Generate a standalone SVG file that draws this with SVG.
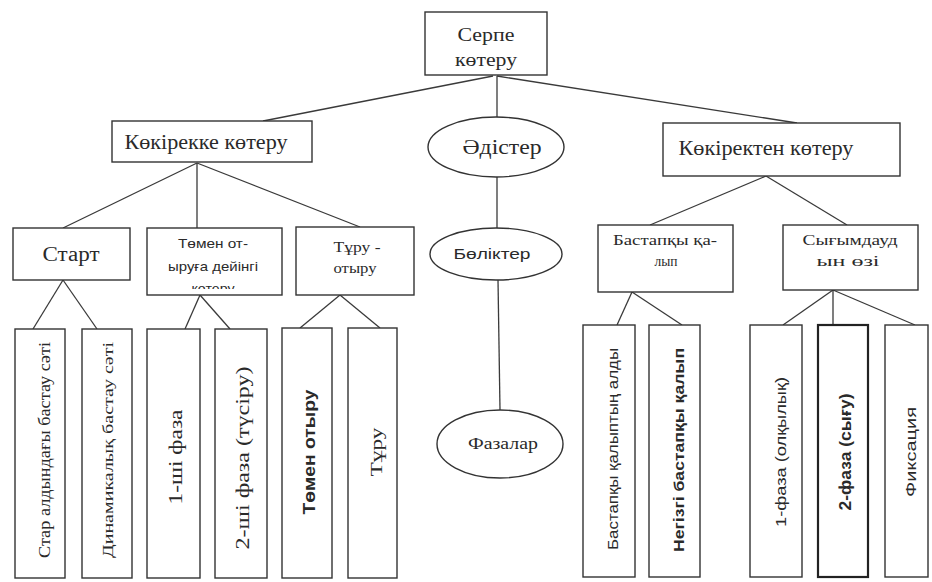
<svg xmlns="http://www.w3.org/2000/svg" width="932" height="582" viewBox="0 0 932 582">
<style>
.b{fill:#fff;stroke:#333;stroke-width:1.4}
.bb{fill:#fff;stroke:#222;stroke-width:2.2}
.c line{stroke:#3a3a3a;stroke-width:1.3}
text{fill:#2a2a2a;text-anchor:middle}
.s{font-family:"Liberation Serif","DejaVu Serif",serif}
.a{font-family:"Liberation Sans","DejaVu Sans",sans-serif}
.v{dominant-baseline:central}
</style>
<defs>
<clipPath id="clipT"><rect x="147" y="228" width="135" height="61"/></clipPath>
</defs>
<rect width="932" height="582" fill="#fff"/>
<g class="c" id="connectors">
<line x1="493" y1="76" x2="263" y2="121"/>
<line x1="497" y1="76" x2="797" y2="123"/>
<line x1="497" y1="76" x2="497" y2="117"/>
<line x1="497" y1="177" x2="497" y2="228"/>
<line x1="498" y1="280" x2="500" y2="410"/>
<line x1="197" y1="163" x2="63" y2="228"/>
<line x1="197" y1="163" x2="197" y2="228"/>
<line x1="197" y1="163" x2="360" y2="227"/>
<line x1="766" y1="176" x2="650" y2="225"/>
<line x1="766" y1="176" x2="847" y2="225"/>
<line x1="63" y1="280" x2="33" y2="329"/>
<line x1="63" y1="280" x2="97" y2="329"/>
<line x1="200" y1="295" x2="185" y2="329"/>
<line x1="200" y1="295" x2="230" y2="329"/>
<line x1="340" y1="295" x2="300" y2="328"/>
<line x1="340" y1="295" x2="380" y2="328"/>
<line x1="632" y1="292" x2="617" y2="325"/>
<line x1="632" y1="292" x2="682" y2="325"/>
<line x1="833" y1="290" x2="783" y2="325"/>
<line x1="833" y1="290" x2="833" y2="325"/>
<line x1="833" y1="290" x2="915" y2="325"/>
</g>
<g id="serpe">
<rect class="b" x="425" y="12" width="122" height="63"/>
<text class="s" x="486" y="41" font-size="19" textLength="57" lengthAdjust="spacingAndGlyphs">Серпе</text>
<text class="s" x="486" y="66" font-size="19" textLength="62" lengthAdjust="spacingAndGlyphs">көтеру</text>
</g>
<g id="kokirekke">
<rect class="b" x="112" y="121" width="200" height="41"/>
<text class="s" x="206" y="149" font-size="20" textLength="163" lengthAdjust="spacingAndGlyphs">Көкірекке көтеру</text>
</g>
<g id="adister">
<ellipse class="b" cx="496" cy="147" rx="68" ry="30"/>
<text class="s" x="502" y="154" font-size="20" textLength="79" lengthAdjust="spacingAndGlyphs">Әдістер</text>
</g>
<g id="bolikter">
<ellipse class="b" cx="496" cy="254" rx="66" ry="26"/>
<text class="a" x="492" y="259" font-size="15" textLength="77" lengthAdjust="spacingAndGlyphs">Бөліктер</text>
</g>
<g id="fazalar">
<ellipse class="b" cx="500" cy="444" rx="63" ry="34"/>
<text class="s" x="503" y="449" font-size="16" textLength="70" lengthAdjust="spacingAndGlyphs">Фазалар</text>
</g>
<g id="kokirekten">
<rect class="b" x="663" y="123" width="237" height="53"/>
<text class="s" x="766" y="155" font-size="20" textLength="175" lengthAdjust="spacingAndGlyphs">Көкіректен көтеру</text>
</g>
<g id="start">
<rect class="b" x="13" y="228" width="117" height="52"/>
<text class="s" x="71" y="261" font-size="20" textLength="57" lengthAdjust="spacingAndGlyphs">Старт</text>
</g>
<g id="tomen-otyruga">
<rect class="b" x="147" y="228" width="135" height="67"/>
<text class="a" x="213" y="248" font-size="13" textLength="70" lengthAdjust="spacingAndGlyphs">Төмен от-</text>
<text class="a" x="213" y="271" font-size="13" textLength="90" lengthAdjust="spacingAndGlyphs">ыруға дейінгі</text>
<text class="a" x="213" y="293" font-size="12" textLength="43" lengthAdjust="spacingAndGlyphs" clip-path="url(#clipT)">көтеру</text>
</g>
<g id="turu-otyru">
<rect class="b" x="296" y="227" width="118" height="68"/>
<text class="s" x="357" y="252" font-size="15" textLength="47" lengthAdjust="spacingAndGlyphs">Тұру -</text>
<text class="s" x="355" y="273" font-size="15" textLength="43" lengthAdjust="spacingAndGlyphs">отыру</text>
</g>
<g id="bastapky-kalyp">
<rect class="b" x="598" y="225" width="135" height="67"/>
<text class="s" x="665" y="245" font-size="15" textLength="104" lengthAdjust="spacingAndGlyphs">Бастапқы қа-</text>
<text class="s" x="666" y="266" font-size="15" textLength="23" lengthAdjust="spacingAndGlyphs">лып</text>
</g>
<g id="sygymdau">
<rect class="b" x="783" y="225" width="135" height="65"/>
<text class="s" x="850" y="245" font-size="15" textLength="95" lengthAdjust="spacingAndGlyphs">Сығымдауд</text>
<text class="s" x="848" y="266" font-size="15" textLength="63" lengthAdjust="spacingAndGlyphs">ын  өзі</text>
</g>
<g id="v1">
<rect class="b" x="15" y="329" width="50" height="249"/>
<text class="s v" transform="translate(44,450) rotate(-90)" font-size="16" textLength="216" lengthAdjust="spacingAndGlyphs">Стар алдындағы  бастау сәті</text>
</g>
<g id="v2">
<rect class="b" x="82" y="329" width="50" height="249"/>
<text class="s v" transform="translate(108,450) rotate(-90)" font-size="15" textLength="216" lengthAdjust="spacingAndGlyphs">Динамикалық  бастау сәті</text>
</g>
<g id="v3">
<rect class="b" x="147" y="329" width="53" height="249"/>
<text class="s v" transform="translate(176,457) rotate(-90)" font-size="18" textLength="95" lengthAdjust="spacingAndGlyphs">1-ші фаза</text>
</g>
<g id="v4">
<rect class="b" x="215" y="329" width="52" height="249"/>
<text class="s v" transform="translate(243,458) rotate(-90)" font-size="18" textLength="183" lengthAdjust="spacingAndGlyphs">2-ші фаза (түсіру)</text>
</g>
<g id="v5">
<rect class="b" x="282" y="328" width="50" height="250"/>
<text class="a v" transform="translate(309,452) rotate(-90)" font-size="16" font-weight="bold" textLength="125" lengthAdjust="spacingAndGlyphs">Төмен отыру</text>
</g>
<g id="v6">
<rect class="b" x="348" y="328" width="49" height="250"/>
<text class="s v" transform="translate(376,452) rotate(-90)" font-size="17" textLength="49" lengthAdjust="spacingAndGlyphs">Тұру</text>
</g>
<g id="v7">
<rect class="b" x="583" y="325" width="52" height="252"/>
<text class="a v" transform="translate(612,449) rotate(-90)" font-size="15" textLength="202" lengthAdjust="spacingAndGlyphs">Бастапқы қалыптың алды</text>
</g>
<g id="v8">
<rect class="b" x="649" y="325" width="51" height="252"/>
<text class="a v" transform="translate(678,450) rotate(-90)" font-size="15" font-weight="bold" textLength="204" lengthAdjust="spacingAndGlyphs">Негізгі бастапқы қалып</text>
</g>
<g id="v9">
<rect class="b" x="750" y="325" width="52" height="252"/>
<text class="a v" transform="translate(780,452) rotate(-90)" font-size="15" textLength="150" lengthAdjust="spacingAndGlyphs">1-фаза (олқылық)</text>
</g>
<g id="v10">
<rect class="bb" x="818" y="325" width="50" height="252"/>
<text class="a v" transform="translate(845,452) rotate(-90)" font-size="16" font-weight="bold" textLength="117" lengthAdjust="spacingAndGlyphs">2-фаза (сығу)</text>
</g>
<g id="v11">
<rect class="b" x="885" y="325" width="43" height="252"/>
<text class="a v" transform="translate(911,452) rotate(-90)" font-size="14" textLength="90" lengthAdjust="spacingAndGlyphs">Фиксация</text>
</g>
</svg>
